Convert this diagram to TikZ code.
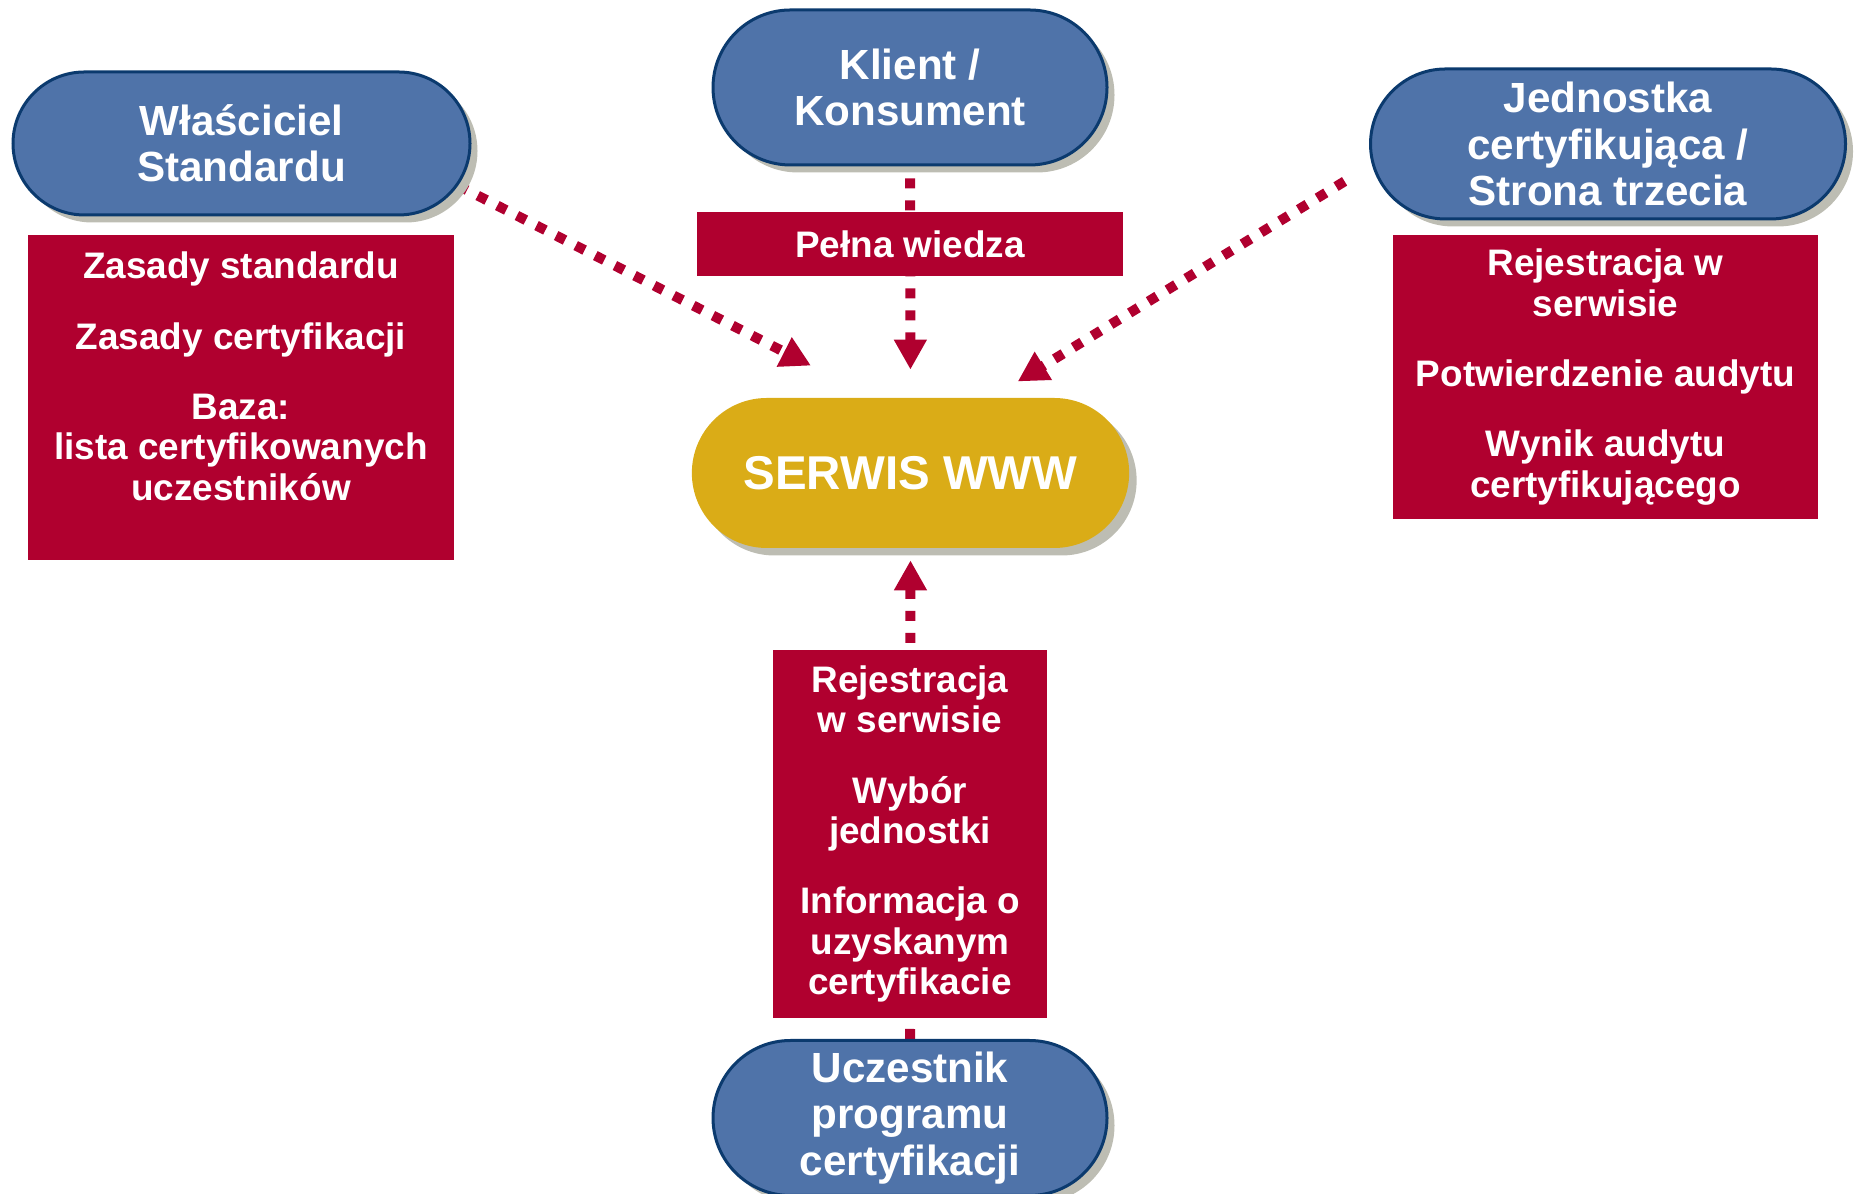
\documentclass[tikz,border=0pt]{standalone}
\usepackage{fontspec}
\setmainfont{Liberation Sans}
\usetikzlibrary{positioning,shapes.misc,shadows,arrows.meta,backgrounds}

\definecolor{pillblue}{HTML}{4F73A9}
\definecolor{pillrim}{HTML}{0B3A6E}
\definecolor{wine}{HTML}{B0002F}
\definecolor{gold}{HTML}{DAAC17}
\definecolor{shade}{HTML}{BDBDB3}

\tikzset{
  pillshadow/.style={drop shadow={shadow xshift=0.15cm, shadow yshift=-0.15cm, fill=shade, opacity=1}},
  pill/.style={rounded rectangle, fill=pillblue, draw=pillrim, line width=0.06cm,
    text=white, align=center, inner sep=0pt, pillshadow,
    font=\fontsize{24}{26.3}\selectfont\bfseries},
  listtext/.style={text=white, align=center, inner sep=0pt,
    font=\fontsize{21}{23}\selectfont\bfseries},
  redbox/.style={listtext, fill=wine},
  flow/.style={draw=wine, line width=0.2cm, dash pattern=on 0.2cm off 0.24cm,
    -{Triangle[width=0.62cm,length=0.6cm]}}
}

\begin{document}
\begin{tikzpicture}
  \useasboundingbox (0,0) rectangle (37.16,23.88);
  % actors
  \node[pill, minimum width=9.14cm, minimum height=2.86cm] (owner) at (4.83,21.01) {Właściciel\\Standardu};
  \node[pill, minimum width=7.88cm, minimum height=3.1cm] (client) at (18.2,22.13) {Klient /\\Konsument};
  \node[pill, minimum width=9.5cm, minimum height=3cm] (certbody) at (32.16,21.0) {Jednostka\\certyfikująca /\\Strona trzecia};
  \node[pill, minimum width=7.88cm, minimum height=3.1cm] (participant) at (18.2,1.52) {Uczestnik\\programu\\certyfikacji};
  % central service
  \node[rounded rectangle, fill=gold, text=white, pillshadow, minimum width=8.98cm, minimum height=3cm,
    font=\fontsize{27}{30}\selectfont\bfseries] (web) at (18.21,14.42) {SERWIS WWW};

  % dotted links, behind the boxes
  \begin{scope}[on background layer]
    \draw[flow, shorten <=0.24cm, shorten >=0.56cm] (client.south) -- (web.north);
    \draw[flow, shorten >=1.41cm] (owner.-11) -- (web.116.6);
    \draw[flow, shorten <=0.64cm, shorten >=0.62cm] (certbody.185.2) -- (web.43.1);
    \draw[flow, shorten >=0.24cm] (participant.north) -- (web.south);
  \end{scope}

  % what each side gives
  \node[redbox, minimum width=8.52cm, minimum height=6.5cm] (rules) at (4.82,15.93) {};
  \node[listtext, below=0.34cm of rules.north] (rulestext) {Zasady standardu\\[17pt]Zasady certyfikacji\\[17pt]Baza:\\lista certyfikowanych\\uczestników};
  \node[redbox, minimum width=8.52cm, minimum height=1.28cm] (knowledge) at (18.2,19.0) {Pełna wiedza};
  \node[redbox, minimum width=8.5cm, minimum height=5.68cm] (audit) at (32.11,16.34) {Rejestracja w\\serwisie\\[17pt]Potwierdzenie audytu\\[17pt]Wynik audytu\\certyfikującego};
  \node[redbox, minimum width=5.48cm, minimum height=7.36cm] (tasks) at (18.2,7.2) {Rejestracja\\w serwisie\\[17pt]Wybór\\jednostki\\[17pt]Informacja o\\uzyskanym\\certyfikacie};
\end{tikzpicture}
\end{document}
